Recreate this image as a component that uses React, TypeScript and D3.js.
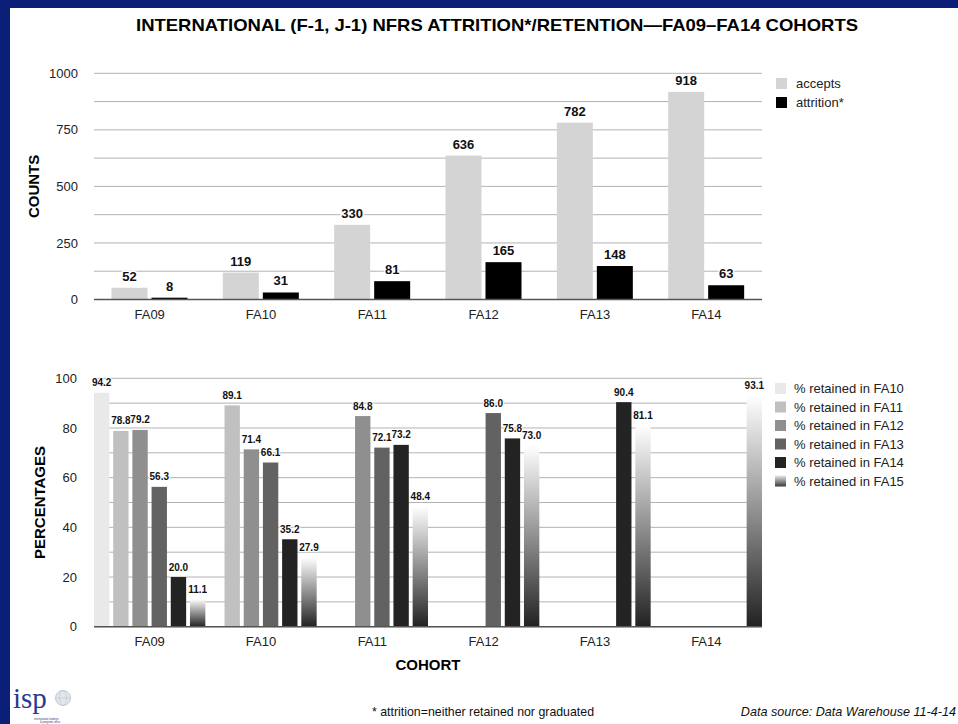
import React from 'react';
import * as d3 from 'd3';

const cohorts = ['FA09', 'FA10', 'FA11', 'FA12', 'FA13', 'FA14'];
const countSeries = ['accepts', 'attrition*'];
const accepts = [52, 119, 330, 636, 782, 918];
const attrition = [8, 31, 81, 165, 148, 63];
const countTicks = [0, 250, 500, 750, 1000];
const countGrid = [0, 125, 250, 375, 500, 625, 750, 875, 1000];

const retentionSeries = [
  '% retained in FA10',
  '% retained in FA11',
  '% retained in FA12',
  '% retained in FA13',
  '% retained in FA14',
  '% retained in FA15',
];
const retFA10 = [94.2, null, null, null, null, null];
const retFA11 = [78.8, 89.1, null, null, null, null];
const retFA12 = [79.2, 71.4, 84.8, null, null, null];
const retFA13 = [56.3, 66.1, 72.1, 86.0, null, null];
const retFA14 = [20.0, 35.2, 73.2, 75.8, 90.4, null];
const retFA15 = [11.1, 27.9, 48.4, 73.0, 81.1, 93.1];
const pctTicks = [0, 20, 40, 60, 80, 100];
const pctGrid = [0, 10, 20, 30, 40, 50, 60, 70, 80, 90, 100];

const countColors = ['#d4d4d4', '#000000'];
const retColors = ['#e9e9e9', '#c0c0c0', '#8f8f8f', '#626262', '#232323', 'url(#fa15grad)'];

const FONT = 'Liberation Sans, Arial, Helvetica, sans-serif';

export default function App() {
  const W = 958, H = 724;
  const x0 = 94, x1 = 762;

  const x = d3.scaleBand<string>().domain(cohorts).range([x0, x1]).paddingInner(0).paddingOuter(0);
  const xSubTop = d3.scaleBand<string>().domain(countSeries).range([17.5, 93.5]).paddingInner(0.1);
  const xSubBot = d3.scaleBand<string>().domain(retentionSeries).range([0, x.bandwidth()]).paddingInner(0.2).paddingOuter(0);

  const yTop = d3.scaleLinear().domain([0, 1000]).range([299.5, 73.3]);
  const yBot = d3.scaleLinear().domain([0, 100]).range([626.7, 378.3]);

  const countData = [accepts, attrition];
  const retData = [retFA10, retFA11, retFA12, retFA13, retFA14, retFA15];

  const halo = { stroke: '#fff', strokeWidth: 3, paintOrder: 'stroke' as const, strokeLinejoin: 'round' as const };

  return (
    <div style={{ position: 'absolute', left: 0, top: 0 }}>
      <svg width={W} height={H} style={{ display: 'block', fontFamily: FONT }}>
        <defs>
          <linearGradient id="fa15grad" x1="0" y1="0" x2="0" y2="1">
            <stop offset="0%" stopColor="#ffffff" />
            <stop offset="100%" stopColor="#222222" />
          </linearGradient>
          <linearGradient id="fa15leg" x1="0" y1="0" x2="0" y2="1">
            <stop offset="0%" stopColor="#e8e8e8" />
            <stop offset="100%" stopColor="#3a3a3a" />
          </linearGradient>
        </defs>
        <rect x={0} y={0} width={W} height={H} fill="#fff" />
        {/* frame */}
        <rect x={0} y={0} width={W} height={8} fill="#0b1e78" />
        <rect x={0} y={0} width={10} height={H} fill="#0b1e78" />

        {/* title */}
        <text x={497} y={31} textAnchor="middle" fontSize={17} fontWeight="bold" fill="#000"
          textLength={722} lengthAdjust="spacingAndGlyphs">
          INTERNATIONAL (F-1, J-1) NFRS ATTRITION*/RETENTION—FA09–FA14 COHORTS
        </text>

        {/* ===== top chart ===== */}
        {countGrid.map((v) => (
          <line key={'tg' + v} x1={x0} x2={x1} y1={yTop(v)} y2={yTop(v)} stroke="#b3b3b3" strokeWidth={1} />
        ))}
        {countTicks.map((v) => (
          <text key={'tt' + v} x={78} y={yTop(v)} dy="0.35em" textAnchor="end" fontSize={13} fill="#222">{v}</text>
        ))}
        {cohorts.map((c, i) =>
          countSeries.map((s, j) => {
            const v = countData[j][i];
            const bx = (x(c) as number) + (xSubTop(s) as number);
            return (
              <rect key={'tb' + c + s} x={bx} y={yTop(v)} width={xSubTop.bandwidth()} height={yTop(0) - yTop(v)} fill={countColors[j]} />
            );
          })
        )}
        <line x1={x0} x2={x1} y1={yTop(0)} y2={yTop(0)} stroke="#555" strokeWidth={1.5} />
        {cohorts.map((c, i) =>
          countSeries.map((s, j) => {
            const v = countData[j][i];
            const cx = (x(c) as number) + (xSubTop(s) as number) + xSubTop.bandwidth() / 2;
            return (
              <text key={'tl' + c + s} x={cx} y={yTop(v) - 7} textAnchor="middle" fontSize={13} fontWeight="bold" fill="#111" {...halo}>{v}</text>
            );
          })
        )}
        {cohorts.map((c) => (
          <text key={'tx' + c} x={(x(c) as number) + x.bandwidth() / 2} y={318.5} textAnchor="middle" fontSize={13} fill="#222">{c}</text>
        ))}
        <text transform="translate(39,186.4) rotate(-90)" textAnchor="middle" fontSize={15} fontWeight="bold" fill="#000">COUNTS</text>

        {/* top legend */}
        {countSeries.map((s, j) => (
          <g key={'tlg' + s} transform={`translate(776,${78 + j * 19})`}>
            <rect x={0} y={0} width={11} height={11} fill={countColors[j]} />
            <text x={20} y={10} fontSize={13} fill="#222">{s}</text>
          </g>
        ))}

        {/* ===== bottom chart ===== */}
        {pctGrid.map((v) => (
          <line key={'bg' + v} x1={x0} x2={x1} y1={yBot(v)} y2={yBot(v)} stroke="#b3b3b3" strokeWidth={1} />
        ))}
        {pctTicks.map((v) => (
          <text key={'bt' + v} x={77} y={yBot(v)} dy="0.35em" textAnchor="end" fontSize={13} fill="#222">{v}</text>
        ))}
        {cohorts.map((c, i) =>
          retentionSeries.map((s, j) => {
            const v = retData[j][i];
            if (v == null) return null;
            const bx = (x(c) as number) + (xSubBot(s) as number);
            return (
              <rect key={'bb' + c + s} x={bx} y={yBot(v)} width={xSubBot.bandwidth()} height={yBot(0) - yBot(v)} fill={retColors[j]} />
            );
          })
        )}
        <line x1={x0} x2={x1} y1={yBot(0)} y2={yBot(0)} stroke="#555" strokeWidth={1.5} />
        {cohorts.map((c, i) =>
          retentionSeries.map((s, j) => {
            const v = retData[j][i];
            if (v == null) return null;
            const cx = (x(c) as number) + (xSubBot(s) as number) + xSubBot.bandwidth() / 2;
            return (
              <text key={'bl' + c + s} x={cx} y={yBot(v) - 6.5} textAnchor="middle" fontSize={10} fontWeight="bold" fill="#111" {...halo} strokeWidth={2}>{v.toFixed(1)}</text>
            );
          })
        )}
        {cohorts.map((c) => (
          <text key={'bx' + c} x={(x(c) as number) + x.bandwidth() / 2} y={646} textAnchor="middle" fontSize={13} fill="#222">{c}</text>
        ))}
        <text transform="translate(45,502.5) rotate(-90)" textAnchor="middle" fontSize={15} fontWeight="bold" fill="#000">PERCENTAGES</text>
        <text x={428} y={670} textAnchor="middle" fontSize={15} fontWeight="bold" fill="#000">COHORT</text>

        {/* bottom legend */}
        {retentionSeries.map((s, j) => (
          <g key={'blg' + s} transform={`translate(775,${383 + j * 18.5})`}>
            <rect x={0} y={0} width={11} height={11} fill={j === 5 ? 'url(#fa15leg)' : retColors[j]} />
            <text x={19} y={10} fontSize={13} fill="#222">{s}</text>
          </g>
        ))}

        {/* footer */}
        <text x={483} y={716} textAnchor="middle" fontSize={13} fill="#111" textLength={222} lengthAdjust="spacingAndGlyphs">
          * attrition=neither retained nor graduated
        </text>
        <text x={956} y={716} textAnchor="end" fontSize={12.6} fontStyle="italic" fill="#111">Data source: Data Warehouse 11-4-14</text>

        {/* logo */}
        <g>
          <text x={13} y={708} fontFamily="Liberation Serif, DejaVu Serif, serif" fontSize={29} fill="#2b3a8c">isp</text>
          <circle cx={63} cy={698} r={7.5} fill="#e4e6ee" stroke="#b8bccb" strokeWidth={0.8} />
          <ellipse cx={63} cy={698} rx={3.5} ry={7.5} fill="none" stroke="#b8bccb" strokeWidth={0.5} />
          <line x1={55.5} x2={70.5} y1={698} y2={698} stroke="#b8bccb" strokeWidth={0.5} />
          <text x={34} y={719.5} fontSize={2.6} fill="#2b3a8c">international students</text>
          <text x={40} y={722.5} fontSize={2.6} fill="#2b3a8c">&amp; programs office</text>
        </g>
      </svg>
    </div>
  );
}
